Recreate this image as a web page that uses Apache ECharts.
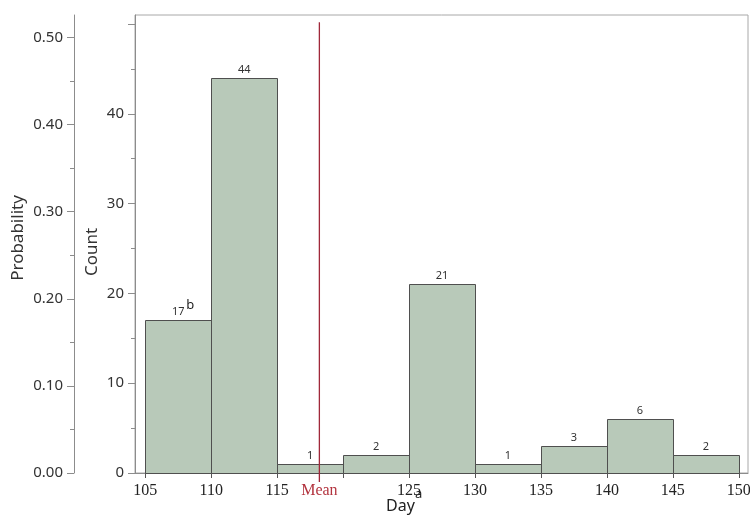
<!DOCTYPE html>
<html><head><meta charset="utf-8">
<script src="https://cdn.jsdelivr.net/npm/echarts@6/dist/echarts.min.js"></script>
<style>html,body{margin:0;padding:0;background:#fff}#c{width:750px;height:516px}</style>
</head><body><div id="c"></div>
<script>
const binEdges = [105,110,115,120,125,130,135,140,145,150];
const counts = [17,44,1,2,21,1,3,6,2];
const countNotes = ['b','','','','','','','',''];
const totalCount = 97;
const meanDay = 118.2;
const meanLineTop = 50.2;
const meanLineBottom = -1;
const xTickValues = [105,110,115,120,125,130,135,140,145,150];
const xLabelValues = [105,110,115,118.2,125,130,135,140,145,150];
const countMajorTicks = [0,10,20,30,40,50];
const countMinorTicks = [5,15,25,35,45];
const countLabels = [0,10,20,30,40];
const probMajorTicks = [0,0.1,0.2,0.3,0.4,0.5];
const probMinorTicks = [0.05,0.15,0.25,0.35,0.45];
const countMax = 51;

const sans = '"Noto Sans", "DejaVu Sans", sans-serif';
const serif = '"Liberation Serif", "DejaVu Serif", serif';
const axisGray = '#8c8c8c';

const barData = counts.map((c, i) => [binEdges[i], binEdges[i + 1], c]);

const chart = echarts.init(document.getElementById('c'));
chart.setOption({
  animation: false,
  backgroundColor: '#fff',
  grid: { left: 135, right: 2, top: 15, bottom: 43, show: true, borderColor: '#a8a8a8', borderWidth: 1, backgroundColor: 'transparent', outerBoundsMode: 'none', containLabel: false },
  xAxis: {
    type: 'value', min: 104.22, max: 150.7,
    axisLine: { show: true, lineStyle: { color: axisGray } },
    axisTick: { show: true, length: 5, customValues: xTickValues, lineStyle: { color: '#555' } },
    splitLine: { show: false },
    axisLabel: {
      customValues: xLabelValues, margin: 10, hideOverlap: false,
      fontFamily: serif, fontSize: 16, color: '#222',
      formatter: v => Math.abs(v - meanDay) < 1e-6 ? '{m|Mean}' : String(v),
      rich: { m: { color: '#b3343f', fontFamily: serif, fontSize: 16 } }
    }
  },
  yAxis: [
    {
      type: 'value', min: 0, max: countMax, position: 'left',
      axisLine: { show: true, lineStyle: { color: axisGray } },
      axisTick: { show: true, length: 7, customValues: countMajorTicks, lineStyle: { color: axisGray } },
      splitLine: { show: false },
      axisLabel: { customValues: countLabels, margin: 11, fontFamily: sans, fontSize: 15, color: '#333' }
    },
    {
      type: 'value', min: 0, max: countMax, position: 'left',
      axisLine: { show: false },
      axisTick: { show: true, length: 4, customValues: countMinorTicks, lineStyle: { color: axisGray } },
      splitLine: { show: false },
      axisLabel: { show: false }
    },
    {
      type: 'value', min: 0, max: countMax / totalCount, position: 'left', offset: 61,
      axisLine: { show: true, lineStyle: { color: axisGray } },
      axisTick: { show: true, length: 7, customValues: probMajorTicks, lineStyle: { color: axisGray } },
      splitLine: { show: false },
      axisLabel: { customValues: probMajorTicks, margin: 11, fontFamily: sans, fontSize: 15, color: '#333', formatter: v => v.toFixed(2) }
    },
    {
      type: 'value', min: 0, max: countMax / totalCount, position: 'left', offset: 61,
      axisLine: { show: false },
      axisTick: { show: true, length: 4, customValues: probMinorTicks, lineStyle: { color: axisGray } },
      splitLine: { show: false },
      axisLabel: { show: false }
    }
  ],
  graphic: [
    { type: 'text', x: 18, y: 238, rotation: Math.PI / 2, style: { text: 'Probability', font: '17px ' + sans, fill: '#333', textAlign: 'center', textVerticalAlign: 'middle' } },
    { type: 'text', x: 92, y: 252, rotation: Math.PI / 2, style: { text: 'Count', font: '17px ' + sans, fill: '#333', textAlign: 'center', textVerticalAlign: 'middle' } },
    { type: 'text', x: 386, y: 498, style: { text: 'Day', font: '16px ' + sans, fill: '#222', textAlign: 'left', textVerticalAlign: 'top' } },
    { type: 'text', x: 415, y: 488, style: { text: 'a', font: '13px ' + sans, fill: '#222', textAlign: 'left', textVerticalAlign: 'top' } }
  ],
  series: [
    {
      type: 'custom', xAxisIndex: 0, yAxisIndex: 0,
      encode: { x: [0, 1], y: 2 },
      data: barData,
      renderItem: (params, api) => {
        const x0 = api.value(0), x1 = api.value(1), c = api.value(2);
        const p0 = api.coord([x0, c]);
        const p1 = api.coord([x1, 0]);
        const cx = (p0[0] + p1[0]) / 2;
        const children = [
          { type: 'rect', shape: { x: Math.round(p0[0]) + 0.5, y: Math.round(p0[1]) + 0.5, width: Math.round(p1[0] - p0[0]), height: Math.round(p1[1] - p0[1]) },
            style: { fill: '#b8c9b9', stroke: '#4f4f4f', lineWidth: 1 } },
          { type: 'text', style: { text: String(c), x: cx, y: p0[1] - 3, textAlign: 'center', textVerticalAlign: 'bottom', font: '11px ' + sans, fill: '#333' } }
        ];
        const note = countNotes[params.dataIndex];
        if (note) {
          children.push({ type: 'text', style: { text: note, x: cx + 8, y: p0[1] - 9, textAlign: 'left', textVerticalAlign: 'bottom', font: '13px ' + sans, fill: '#222' } });
        }
        return { type: 'group', children };
      },
      z: 2
    },
    {
      type: 'line', xAxisIndex: 0, yAxisIndex: 0,
      data: [[meanDay, meanLineBottom], [meanDay, meanLineTop]],
      symbol: 'none', clip: false,
      lineStyle: { color: '#a0283a', width: 1.3 },
      z: 5
    }
  ]
});
</script>
</body></html>
